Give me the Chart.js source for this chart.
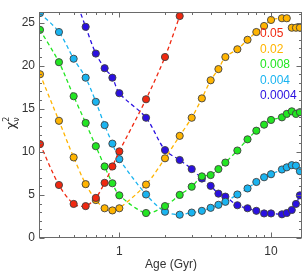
<!DOCTYPE html>
<html><head><meta charset="utf-8">
<script src="https://cdn.jsdelivr.net/npm/chart.js@4/dist/chart.umd.min.js"></script>
<style>html,body{margin:0;padding:0;background:#fff;}#wrap{width:307px;height:275px;}</style>
</head><body><div id="wrap"><canvas id="c" width="307" height="275"></canvas></div>
<script>
const ages = [0.3,0.4,0.5,0.6,0.7,0.8,0.9,1.0,1.5,2.0,2.5,3,3.5,4,4.5,5,6,7,8,9,10,11.8,12.7,13.7,14.6,15.5];
const seriesNames = ['0.05','0.02','0.008','0.004','0.0004'];
const seriesColors = ['#f02810','#ffb400','#22e622','#1ab4f0','#2a10e0'];
const red = [10.9,6.15,3.95,3.7,4.65,6.4,8.3,10.05,16.1,21.0,25.75];
const orange = [19.0,13.6,9.35,6.25,4.4,3.45,3.2,3.45,6.2,9.25,11.85,13.95,16.2,18.3,19.6,21.0,21.9,23.0,23.9,24.6,25.3,25.5,25.5,24.4,24.4,24.4];
const green = [24.15,20.4,16.45,13.35,10.65,8.3,6.35,4.95,2.9,3.7,5.0,5.95,7.15,7.3,8.0,8.75,10.15,11.45,12.45,13.15,13.7,14.0,14.4,14.7,14.4,14.6];
const cyan = [26.1,23.9,20.8,18.6,15.8,13.1,10.95,9.15,5.05,3.05,2.7,2.95,3.15,3.5,3.85,4.2,5.05,5.75,6.5,7.05,7.4,7.95,8.2,8.45,8.4,7.75];
const blue = [28.3,24.5,21.4,19.7,18.6,16.8,13.95,10.2,9.05,8.0,6.9,6.05,5.15,4.8,3.8,3.45,3.15,2.85,2.85,2.75,2.9,3.25,3.95,4.95];
const blueStart = 2;
const yTicks = [0,5,10,15,20,25];
const xTicks = [1,10];
const xMinor = [0.4,0.5,0.6,0.7,0.8,0.9,2,3,4,5,6,7,8,9];

function pts(vals, start){ return vals.map((v,i)=>({x:ages[start+i], y:v})); }
const allVals = [[red,0],[orange,0],[green,0],[cyan,0],[blue,blueStart]];
const datasets = allVals.map(([v,s],k)=>({
  label: seriesNames[k], data: pts(v,s),
  borderColor: seriesColors[k], backgroundColor: seriesColors[k],
  borderWidth: 1.3, borderDash: [4,3], tension: 0.3,
  pointRadius: 3.6, pointBorderColor: '#404040', pointBorderWidth: 0.9,
  pointBackgroundColor: seriesColors[k]
}));

const framePlugin = {
  id:'frame',
  afterDraw(chart){
    const {ctx, chartArea:a, scales:{x,y}} = chart;
    ctx.save();
    ctx.strokeStyle='#6a6a6a'; ctx.lineWidth=1;
    const L=Math.round(a.left)-0.5, R=Math.round(a.right)-0.5, T=Math.round(a.top)+0.5, B=Math.round(a.bottom)-0.5;
    ctx.strokeRect(L,T,R-L,B-T);
    ctx.beginPath();
    for(let v=0; v<=26; v++){
      const py=Math.round(y.getPixelForValue(v))+0.5;
      const len = (v%5===0)?5:2.5;
      ctx.moveTo(L,py); ctx.lineTo(L+len,py);
      ctx.moveTo(R,py); ctx.lineTo(R-len,py);
    }
    xTicks.concat(xMinor).forEach(v=>{
      const px=Math.round(x.getPixelForValue(v))+0.5;
      const len = xTicks.includes(v)?5:2.5;
      ctx.moveTo(px,B); ctx.lineTo(px,B-len);
      ctx.moveTo(px,T); ctx.lineTo(px,T+len);
    });
    ctx.stroke();
    ctx.font='12px "Liberation Sans", Arial, sans-serif';
    ctx.textAlign='left'; ctx.textBaseline='middle';
    const ly=[33.5,49.3,65,80.5,96];
    seriesNames.forEach((n,i)=>{ ctx.fillStyle=seriesColors[i]; ctx.fillText(n, 260, ly[i]); });
    ctx.translate(11,123); ctx.rotate(-Math.PI/2);
    ctx.fillStyle='#333';
    ctx.font='13px "DejaVu Sans", sans-serif';
    ctx.textBaseline='alphabetic'; ctx.textAlign='left';
    const w=ctx.measureText('χ').width;
    const x0=-(w+5)/2;
    ctx.fillText('χ', x0, 4);
    ctx.font='8px "DejaVu Sans", sans-serif';
    ctx.fillText('2', x0+w, -2);
    ctx.fillText('ν', x0+w, 8);
    ctx.restore();
  }
};

new Chart(document.getElementById('c'), {
  type:'line',
  data:{datasets},
  options:{
    responsive:false, animation:false, devicePixelRatio:1,
    layout:{padding:{left:0,right:5,top:5,bottom:0}},
    plugins:{legend:{display:false}, tooltip:{enabled:false}},
    scales:{
      x:{type:'logarithmic', min:0.3, max:16,
        grid:{display:false, drawTicks:false}, border:{display:false},
        afterBuildTicks(s){ s.ticks = xTicks.map(v=>({value:v, major:true})); },
        afterFit(s){ s.height = 37; },
        ticks:{callback:v=>String(v), padding:6, color:'#333', font:{size:12, family:'"Liberation Sans", Arial, sans-serif'}, maxRotation:0, autoSkip:false},
        title:{display:true, text:'Age (Gyr)', color:'#333', font:{size:12, family:'"Liberation Sans", Arial, sans-serif'}, padding:{top:0,bottom:3}}
      },
      y:{type:'linear', min:0, max:26.2,
        grid:{display:false, drawTicks:false}, border:{display:false},
        afterBuildTicks(s){ s.ticks = yTicks.map(v=>({value:v})); },
        afterFit(s){ s.width = 40; },
        ticks:{padding:5, color:'#333', font:{size:12, family:'"Liberation Sans", Arial, sans-serif'}}
      }
    }
  },
  plugins:[framePlugin]
});
</script></body></html>
